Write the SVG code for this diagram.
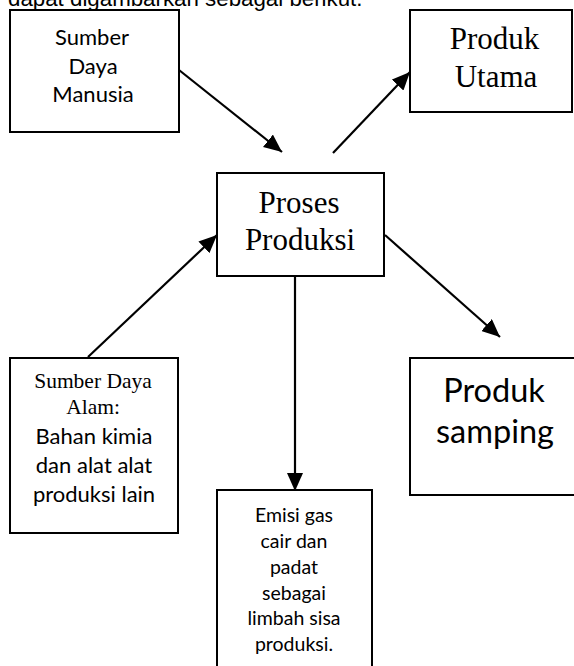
<svg xmlns="http://www.w3.org/2000/svg" width="574" height="666" viewBox="0 0 574 666">
<defs>
<style>
.box{fill:#fff;stroke:#000;stroke-width:2}
.cal{font-family:Lato,"Open Sans","Liberation Sans",sans-serif;fill:#000;text-anchor:middle}
.tim{font-family:"Liberation Serif","Times New Roman",serif;fill:#000;text-anchor:middle}
.arw{stroke:#000;stroke-width:2.2;fill:none;marker-end:url(#ah)}
</style>
<marker id="ah" markerUnits="userSpaceOnUse" markerWidth="20" markerHeight="16" refX="18" refY="8" orient="auto">
<path d="M0,0 L18,8 L0,16 Z" fill="#000"/>
</marker>
</defs>
<rect width="574" height="666" fill="#fff"/>
<text x="8" y="6" font-family="'Liberation Sans',Arial,sans-serif" font-size="22.3" fill="#000">dapat digambarkan sebagai berikut.</text>

<g id="connectors">
<line class="arw" x1="179" y1="70" x2="282" y2="152"/>
<line class="arw" x1="333" y1="153" x2="410" y2="72"/>
<line class="arw" x1="88" y1="357" x2="217" y2="235"/>
<line class="arw" x1="385" y1="235" x2="500" y2="337"/>
<line class="arw" x1="295" y1="276" x2="295" y2="491"/>
</g>

<g id="sdm">
<rect class="box" x="10" y="10" width="169" height="122"/>
<text class="cal" font-size="22"><tspan x="92" y="45">Sumber</tspan><tspan x="93" y="74">Daya</tspan><tspan x="93" y="102">Manusia</tspan></text>
</g>

<g id="produk-utama">
<rect class="box" x="410" y="10" width="162" height="102"/>
<text class="tim" font-size="31"><tspan x="494.5" y="49">Produk</tspan><tspan x="496" y="87">Utama</tspan></text>
</g>

<g id="proses">
<rect class="box" x="217" y="173" width="167" height="103"/>
<text class="tim" font-size="31"><tspan x="299" y="213">Proses</tspan><tspan x="300" y="250">Produksi</tspan></text>
</g>

<g id="sda">
<rect class="box" x="10" y="358" width="168" height="175"/>
<text class="tim" font-size="21.5"><tspan x="93" y="388">Sumber Daya</tspan><tspan x="93" y="414">Alam:</tspan></text>
<text class="cal" font-size="22"><tspan x="94" y="444">Bahan kimia</tspan><tspan x="94" y="473">dan alat alat</tspan><tspan x="94" y="502">produksi lain</tspan></text>
</g>

<g id="samping">
<rect class="box" x="410" y="358" width="180" height="137"/>
<text class="cal" font-size="32.5"><tspan x="494" y="402">Produk</tspan><tspan x="495" y="443">samping</tspan></text>
</g>

<g id="emisi">
<rect class="box" x="217" y="490" width="155" height="200"/>
<text class="cal" font-size="19.5"><tspan x="294" y="522">Emisi gas</tspan><tspan x="294" y="548">cair dan</tspan><tspan x="294" y="574">padat</tspan><tspan x="294" y="600">sebagai</tspan><tspan x="294" y="625">limbah sisa</tspan><tspan x="294" y="651">produksi.</tspan></text>
</g>
</svg>
